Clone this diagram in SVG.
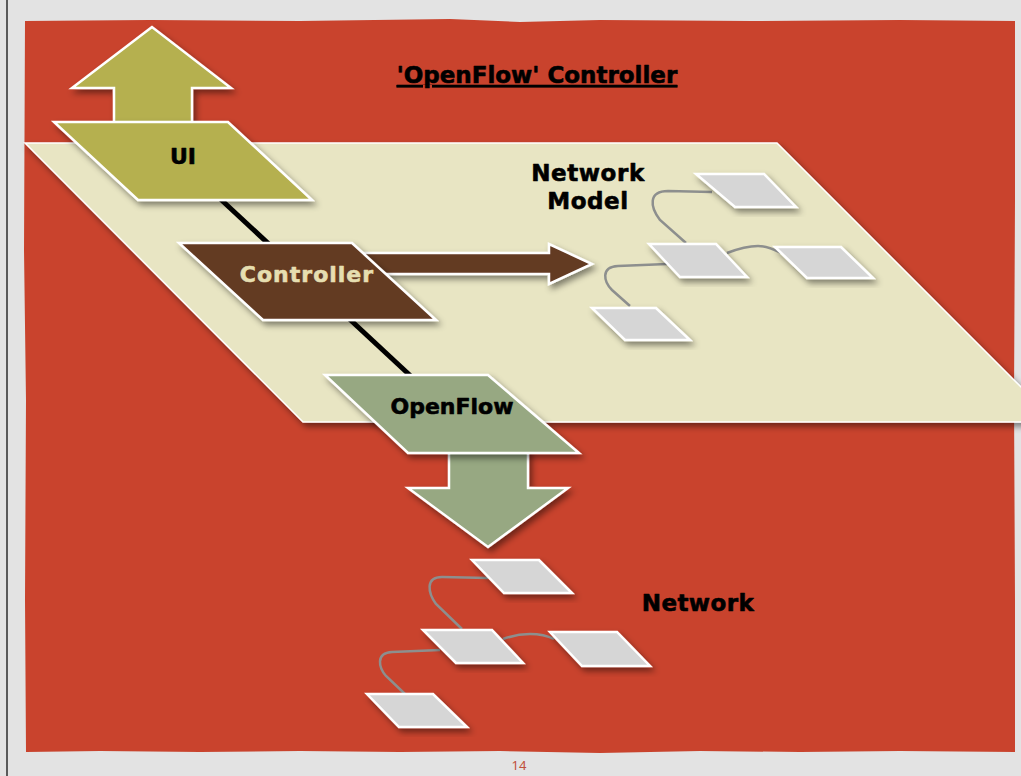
<svg xmlns="http://www.w3.org/2000/svg" width="1021" height="776" viewBox="0 0 1021 776">
  <defs>
    <filter id="sh" x="-20%" y="-20%" width="150%" height="150%">
      <feDropShadow dx="3" dy="4" stdDeviation="3" flood-color="#000" flood-opacity="0.45"/>
    </filter>
    <style>
      .lbl { font-family: "DejaVu Sans", "Liberation Sans", sans-serif; font-weight: bold; text-anchor: middle; stroke-width: 0.6; stroke-linejoin: round; }
      .dark { fill: #000; stroke: #000; }
      .light { fill: #e6deb0; stroke: #e6deb0; }
      .box { fill: #d6d6d6; stroke: #ffffff; stroke-width: 2.5; filter: url(#sh); }
      .link { fill: none; stroke: #8d8f8e; stroke-width: 2.5; }
      .edge { stroke: #ffffff; stroke-width: 2.5; stroke-linejoin: miter; }
    </style>
  </defs>

  <!-- page -->
  <rect x="0" y="0" width="1021" height="776" fill="#e3e3e3"/>
  <rect x="6" y="0" width="2" height="776" fill="#5a5a5a"/>
  <path d="M25,21 L150,20 L300,21 L450,19 L520,22 L600,20 L750,21 L900,20 L1015,21 L1015,200 L1014,400 L1015,600 L1015,752 L900,751 L800,752 L700,751 L600,753 L500,751 L400,752 L300,751 L200,752 L100,751 L26,752 L25,600 L26,400 L24,250 Z" fill="#c9432d"/>

  <!-- title -->
  <text class="lbl dark" x="537" y="83" font-size="23" text-decoration="underline">'OpenFlow' Controller</text>

  <!-- network model plane -->
  <g id="network-model">
    <polygon points="25,143 777,143 1056,422 303,422" fill="#e8e5c3" stroke="#ffffff" stroke-width="1.5" filter="url(#sh)"/>
    <text class="lbl dark" x="588" y="181" font-size="23" letter-spacing="0.6">Network</text>
    <text class="lbl dark" x="588" y="209" font-size="23" letter-spacing="0.6">Model</text>
  </g>

  <!-- connectors -->
  <g id="connectors">
    <line x1="215" y1="194" x2="415" y2="380" stroke="#000" stroke-width="5"/>
    <!-- model links -->
    <path class="link" d="M712,192 L668,191 C648,191 650,207 660,220 L686,243"/>
    <path class="link" d="M727,253 C740,248 750,246 758,246 C768,246 775,250 781,253"/>
    <path class="link" d="M667,264 L618,266 C600,267 604,282 612,290 L630,306"/>
    <!-- network links -->
    <path class="link" d="M488,578 L442,577 C425,577 428,593 436,604 L462,629"/>
    <path class="link" d="M503,639 C514,635 522,634 530,634 C540,634 548,636 554,639"/>
    <path class="link" d="M440,650 L392,652 C375,653 379,668 386,676 L405,694"/>
  </g>

  <!-- UI node -->
  <g id="ui">
    <polygon class="edge" points="152,27 72,88 114,88 114,130 192,130 192,88 231,88" fill="#b5b04f" filter="url(#sh)"/>
    <polygon class="edge" points="54,122 228,122 312,200 138,200" fill="#b5b04f" filter="url(#sh)"/>
    <text class="lbl dark" x="183" y="164" font-size="22">UI</text>
  </g>

  <!-- Controller node -->
  <g id="controller">
    <polygon class="edge" points="360,253 549,253 549,244 592,264 549,284 549,274 360,274" fill="#633a23" filter="url(#sh)"/>
    <polygon class="edge" points="179,243 352,243 436,320 263,320" fill="#633a23" filter="url(#sh)"/>
    <text class="lbl light" x="307" y="282" font-size="22" letter-spacing="1">Controller</text>
  </g>

  <!-- OpenFlow node -->
  <g id="openflow">
    <polygon class="edge" points="449,448 528,448 528,488 568,488 488,547 408,488 449,488" fill="#97a882" filter="url(#sh)"/>
    <polygon class="edge" points="325,375 488,375 579,453 408,453" fill="#97a882" filter="url(#sh)"/>
    <text class="lbl dark" x="452" y="414" font-size="22">OpenFlow</text>
  </g>

  <!-- model switches -->
  <g id="model-switch-top"><polygon class="box" points="696,174 764,174 796,207 735,207"/></g>
  <g id="model-switch-mid"><polygon class="box" points="649,244 716,244 747,277 680,277"/></g>
  <g id="model-switch-right"><polygon class="box" points="775,247 841,247 873,278 807,278"/></g>
  <g id="model-switch-bottom"><polygon class="box" points="592,308 656,308 690,340 625,340"/></g>

  <!-- network switches -->
  <g id="net-switch-top"><polygon class="box" points="472,560 539,560 572,593 504,593"/></g>
  <g id="net-switch-mid"><polygon class="box" points="423,630 492,630 523,663 456,663"/></g>
  <g id="net-switch-right"><polygon class="box" points="550,632 617,632 650,666 582,666"/></g>
  <g id="net-switch-bottom"><polygon class="box" points="367,694 433,694 467,727 399,727"/></g>

  <g id="network-label">
    <text class="lbl dark" x="698" y="611" font-size="23" letter-spacing="0.4">Network</text>
  </g>

  <text x="519" y="770" font-family="'Noto Sans', 'Liberation Sans', sans-serif" font-size="13" fill="#c0503a" text-anchor="middle">14</text>
</svg>
